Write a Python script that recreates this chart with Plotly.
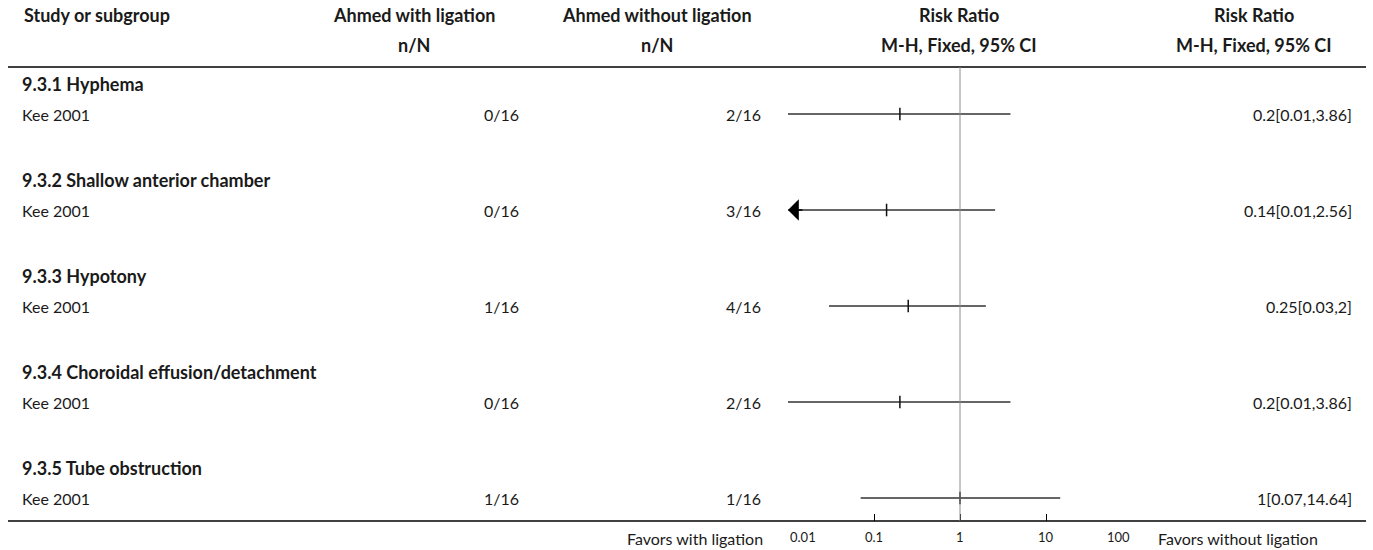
import math
import plotly.graph_objects as go

# ---- data -----------------------------------------------------------------
groups = [
    "9.3.1 Hyphema",
    "9.3.2 Shallow anterior chamber",
    "9.3.3 Hypotony",
    "9.3.4 Choroidal effusion/detachment",
    "9.3.5 Tube obstruction",
]
studies = ["Kee 2001", "Kee 2001", "Kee 2001", "Kee 2001", "Kee 2001"]
with_events = [0, 0, 1, 0, 1]
with_total = [16, 16, 16, 16, 16]
without_events = [2, 3, 4, 2, 1]
without_total = [16, 16, 16, 16, 16]
rr = [0.2, 0.14, 0.25, 0.2, 1]
ci_low = [0.01, 0.01, 0.03, 0.01, 0.07]
ci_high = [3.86, 2.56, 2, 3.86, 14.64]
clipped_low = [False, True, False, False, False]

tick_vals = [0.01, 0.1, 1, 10, 100]
tick_text = ["0.01", "0.1", "1", "10", "100"]

# ---- layout helpers --------------------------------------------------------
W, H = 1373, 550
FONT = "Lato"
ROW_H = 30          # pixels per row unit
TOP_ROW_PX = 84     # first subgroup row
AXIS_PX = 521       # bottom rule / axis line
HEADER_RULE_PX = 67
TEXT = "#1a1a1a"


def px_x(p):
    return p / W


def px_y(p):
    return 1 - p / H


# subgroup heading row and study row positions (row units)
group_y = [3.2 * i for i in range(len(groups))]
study_y = [g + 1 for g in group_y]

fig = go.Figure()

# confidence interval lines
for i in range(len(studies)):
    fig.add_trace(go.Scatter(
        x=[ci_low[i], ci_high[i]], y=[study_y[i], study_y[i]],
        mode="lines", line=dict(color="#333333", width=1.4),
        hoverinfo="skip", showlegend=False,
    ))

# point estimates
fig.add_trace(go.Scatter(
    x=rr, y=study_y, mode="markers",
    marker=dict(symbol="line-ns-open", size=9, color="#111111",
                line=dict(color="#111111", width=1.5)),
    hoverinfo="skip", showlegend=False,
))

annotations = []

# arrows for intervals that run past the axis range
for i in range(len(studies)):
    if clipped_low[i]:
        annotations.append(dict(
            x=math.log10(ci_low[i]), y=study_y[i],
            xref="x", yref="y", text="", showarrow=True,
            arrowhead=1, arrowsize=2.4, arrowwidth=1.5, arrowcolor="#000000",
            ax=16, ay=0, standoff=0,
        ))

base_font = dict(family=FONT, size=16, color=TEXT)
bold_font = dict(family=FONT, size=18, color=TEXT, weight="bold")
tick_font = dict(family=FONT, size=13, color=TEXT)

# header rows
hdr1, hdr2 = px_y(15), px_y(45)
headers = [
    (22, "left", "Study or subgroup", None),
    (414, "center", "Ahmed with ligation", "n/N"),
    (657, "center", "Ahmed without ligation", "n/N"),
    (959, "center", "Risk Ratio", "M-H, Fixed, 95% CI"),
    (1254, "center", "Risk Ratio", "M-H, Fixed, 95% CI"),
]
for x, anchor, t1, t2 in headers:
    annotations.append(dict(x=px_x(x), y=hdr1, xref="paper", yref="paper",
                            text=t1, showarrow=False, xanchor=anchor,
                            yanchor="middle", font=bold_font))
    if t2:
        annotations.append(dict(x=px_x(x), y=hdr2, xref="paper", yref="paper",
                                text=t2, showarrow=False, xanchor=anchor,
                                yanchor="middle", font=bold_font))

# subgroup headings and study rows
for i, g in enumerate(groups):
    annotations.append(dict(x=px_x(20), y=group_y[i], xref="paper", yref="y",
                            text=g, showarrow=False, xanchor="left",
                            yanchor="middle", font=bold_font))
    annotations.append(dict(x=px_x(20), y=study_y[i], xref="paper", yref="y",
                            text=studies[i], showarrow=False, xanchor="left",
                            yanchor="middle", font=base_font))
    annotations.append(dict(x=px_x(521), y=study_y[i], xref="paper", yref="y",
                            text=f"{with_events[i]}/{with_total[i]}",
                            showarrow=False, xanchor="right",
                            yanchor="middle", font=base_font))
    annotations.append(dict(x=px_x(763), y=study_y[i], xref="paper", yref="y",
                            text=f"{without_events[i]}/{without_total[i]}",
                            showarrow=False, xanchor="right",
                            yanchor="middle", font=base_font))
    annotations.append(dict(x=px_x(1354), y=study_y[i], xref="paper", yref="y",
                            text=f"{rr[i]:g}[{ci_low[i]:g},{ci_high[i]:g}]",
                            showarrow=False, xanchor="right",
                            yanchor="middle", font=base_font))

# axis tick labels, kept inside the plotted range at both ends
label_anchor = ["left", "center", "center", "center", "right"]
for v, t, a in zip(tick_vals, tick_text, label_anchor):
    annotations.append(dict(x=math.log10(v), y=px_y(537), xref="x",
                            yref="paper", text=t, showarrow=False,
                            xanchor=a, yanchor="middle", font=tick_font))

# favours labels under the axis
annotations.append(dict(x=px_x(765), y=px_y(538), xref="paper", yref="paper",
                        text="Favors with ligation", showarrow=False,
                        xanchor="right", yanchor="middle", font=base_font))
annotations.append(dict(x=px_x(1156), y=px_y(538), xref="paper", yref="paper",
                        text="Favors without ligation", showarrow=False,
                        xanchor="left", yanchor="middle", font=base_font))

shapes = [
    # header rule
    dict(type="line", xref="paper", yref="paper", x0=px_x(8), x1=px_x(1366),
         y0=px_y(HEADER_RULE_PX), y1=px_y(HEADER_RULE_PX),
         line=dict(color="#000000", width=1.5)),
    # bottom rule
    dict(type="line", xref="paper", yref="paper", x0=px_x(8), x1=px_x(1366),
         y0=px_y(AXIS_PX), y1=px_y(AXIS_PX),
         line=dict(color="#000000", width=1.5)),
    # line of no effect
    dict(type="line", xref="x", yref="paper", x0=1, x1=1,
         y0=px_y(AXIS_PX), y1=px_y(HEADER_RULE_PX),
         line=dict(color="#8c8c8c", width=1)),
]

y_top = (0 - TOP_ROW_PX) / ROW_H
y_bottom = (AXIS_PX - TOP_ROW_PX) / ROW_H

fig.update_layout(
    width=W, height=H,
    margin=dict(l=0, r=0, t=0, b=0),
    paper_bgcolor="white", plot_bgcolor="white",
    font=dict(family=FONT, size=16, color=TEXT),
    showlegend=False,
    annotations=annotations,
    shapes=shapes,
    xaxis=dict(
        type="log", range=[-2, 2],
        domain=[px_x(788), px_x(1132)],
        showgrid=False, zeroline=False, showline=False,
        ticks="inside", ticklen=7, tickwidth=1, tickcolor="#000000",
        tickvals=tick_vals, showticklabels=False,
        fixedrange=True,
    ),
    yaxis=dict(
        range=[y_bottom, y_top],
        domain=[1 - AXIS_PX / H, 1],
        visible=False, fixedrange=True,
    ),
)

fig.write_html("out.html")
